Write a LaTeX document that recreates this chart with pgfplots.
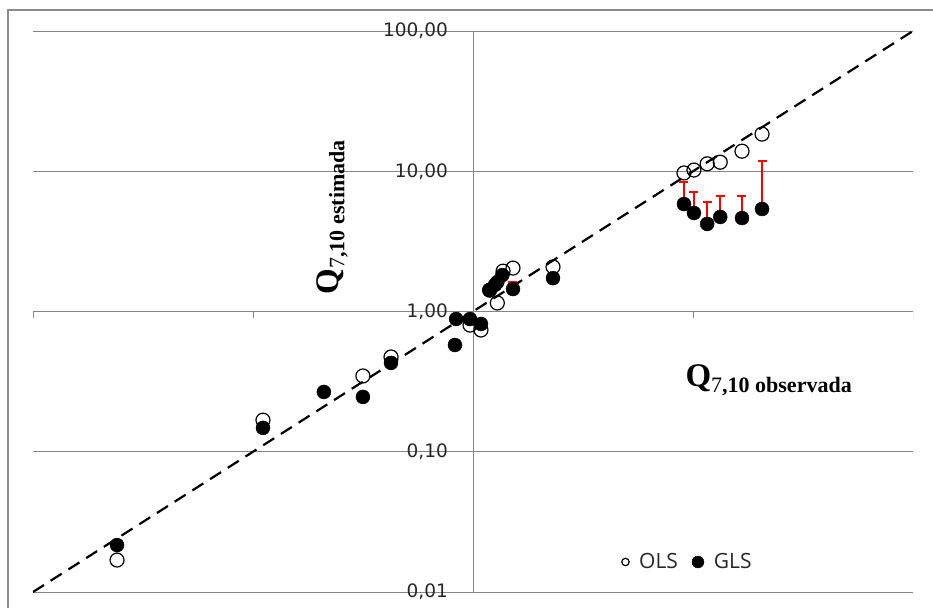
\documentclass[border=0pt]{standalone}
\usepackage{pgfplots}
\pgfplotsset{compat=1.18}
\usepackage{fontspec}
\setmainfont{Liberation Serif}
\newfontfamily\dejavu{DejaVu Sans}
\newfontfamily\opensans{Open Sans}
\definecolor{gridgray}{RGB}{134,134,134}
\definecolor{framegray}{RGB}{140,140,140}

\newcommand{\qlabel}[1]{\bfseries\fontsize{33}{36}\selectfont Q\raisebox{-6pt}{\fontsize{22}{24}\selectfont{\mdseries 7},10 #1}}

\begin{document}
\begin{tikzpicture}[x=1pt,y=1pt]
\useasboundingbox (0,0) rectangle (933,607);
\draw[framegray, line width=1.8pt] (8,-20) rectangle (960,597);
\begin{axis}[
  at={(33pt,15pt)}, anchor=south west,
  scale only axis, width=880pt, height=561pt,
  xmode=log, ymode=log,
  xmin=0.01, xmax=100, ymin=0.01, ymax=100,
  axis lines*=left, axis line style={draw=none},
  xtick=\empty,
  ytick={0.01,0.1,1,10,100},
  yticklabels={{0,01},{0,10},{1,00},{10,00},{100,00}},
  yticklabel style={font=\dejavu\fontsize{18.5}{20}\selectfont, anchor=east, inner sep=0pt, xshift=415pt, text=black!85},
  major tick length=0pt, minor tick length=0pt,
  xminorticks=false, yminorticks=false,
  tick style={draw=none},
  ymajorgrids, major grid style={gridgray, line width=0.9pt},
  xlabel={\qlabel{observada}},
  ylabel={\qlabel{estimada}},
  xlabel style={at={(rel axis cs:0.836,0.378)}, anchor=center, inner sep=0pt},
  ylabel style={at={(rel axis cs:0.34,0.668)}, anchor=center, inner sep=0pt},
  legend style={at={(rel axis cs:0.744,0.0535)}, anchor=center, draw=none, fill=none,
    font=\opensans\fontsize{21}{24}\selectfont, text=black!85,
    legend columns=2,
    /tikz/every odd column/.append style={column sep=8pt},
    /tikz/every even column/.append style={column sep=12pt}},
]
% eixos em x=1 e y=1
\draw[gridgray, line width=0.9pt] (axis cs:1,0.01) -- (axis cs:1,100);
\draw[gridgray, line width=0.9pt] (axis cs:0.01,1) -- ++(0pt,-7pt);
\draw[gridgray, line width=0.9pt] (axis cs:0.1,1) -- ++(0pt,-7pt);
\draw[gridgray, line width=0.9pt] (axis cs:10,1) -- ++(0pt,-7pt);
\draw[gridgray, line width=0.9pt] (axis cs:100,1) -- ++(0pt,-7pt);

% reta 1:1
\addplot[black, line width=2.2pt, dash pattern=on 13pt off 8pt, forget plot]
  coordinates {(0.01,0.01) (100,100)};

% OLS
\addplot[only marks, mark=o, mark size=7pt, mark options={black, line width=1.2pt},
  legend image post style={mark size=3.7pt, line width=1pt}]
coordinates {
(0.0241,0.0169) (0.111,0.168) (0.316,0.347) (0.424,0.474)
(0.969,0.80) (1.087,0.738) (1.19,1.42) (1.29,1.15) (1.37,1.94)
(1.52,2.04) (2.31,2.08)
(9.10,9.72) (10.1,10.2) (11.6,11.3) (13.3,11.6) (16.7,13.9) (20.6,18.4)
};
\addlegendentry{OLS}

% barras de erro (GLS)
\addplot[forget plot, only marks, mark=none,
  error bars/.cd, y dir=plus, y explicit, error mark=|,
  error bar style={red, line width=2pt},
  error mark options={red, line width=2.6pt, mark size=4.5pt}]
coordinates {
(1.52,1.446) +- (0,0.17)
(9.10,5.84) +- (0,2.54)
(10.1,5.04) +- (0,2.07)
(11.6,4.21) +- (0,1.83)
(13.3,4.72) +- (0,1.94)
(16.7,4.64) +- (0,2.02)
(20.6,5.38) +- (0,6.42)
};

% GLS
\addplot[only marks, mark=*, mark size=7pt, mark options={black, fill=black},
  legend image post style={mark size=6pt}]
coordinates {
(0.0241,0.0216) (0.111,0.148) (0.210,0.267) (0.316,0.246) (0.424,0.43)
(0.828,0.577) (0.838,0.884) (0.969,0.884) (1.087,0.815)
(1.19,1.42) (1.26,1.55) (1.29,1.62) (1.36,1.82) (1.52,1.446) (2.31,1.73)
(9.10,5.84) (10.1,5.04) (11.6,4.21) (13.3,4.72) (16.7,4.64) (20.6,5.38)
};
\addlegendentry{GLS}
\end{axis}
\end{tikzpicture}
\end{document}
